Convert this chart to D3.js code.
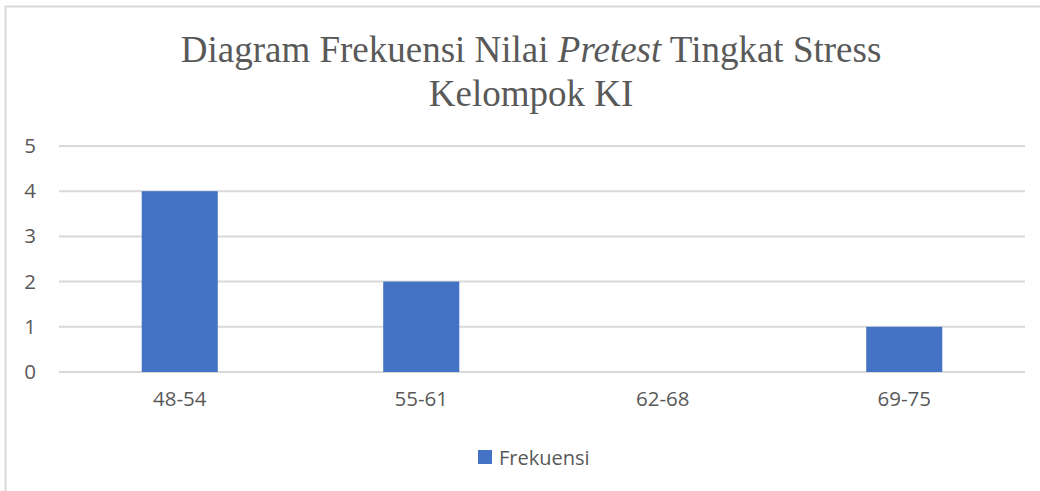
<!DOCTYPE html>
<html>
<head>
<meta charset="utf-8">
<script src="https://cdn.jsdelivr.net/npm/d3@7"></script>
<style>
  body { margin: 0; background: #fff; }
  svg { display: block; }
</style>
</head>
<body>
<div id="chart"></div>
<script>
const categories = ['48-54', '55-61', '62-68', '69-75'];
const frekuensi = [4, 2, 0, 1];
const yTicks = [0, 1, 2, 3, 4, 5];
const seriesName = 'Frekuensi';

const width = 1040;
const height = 491;
const margin = { top: 146, right: 15, bottom: 119, left: 59 };

const svg = d3.select('#chart')
  .append('svg')
  .attr('width', width)
  .attr('height', height);

// chart frame (only top and left edges are visible in the crop)
svg.append('rect')
  .attr('x', 5.5)
  .attr('y', 6.5)
  .attr('width', width + 20)
  .attr('height', height + 20)
  .attr('fill', '#fff')
  .attr('stroke', '#d9d9d9')
  .attr('stroke-width', 2);

const x = d3.scaleBand()
  .domain(categories)
  .range([margin.left, width - margin.right])
  .paddingInner(0.685)
  .paddingOuter(0.3425);

const y = d3.scaleLinear()
  .domain([0, 5])
  .range([height - margin.bottom, margin.top]);

// gridlines
svg.append('g')
  .selectAll('line')
  .data(yTicks)
  .join('line')
  .attr('x1', margin.left)
  .attr('x2', width - margin.right)
  .attr('y1', d => y(d))
  .attr('y2', d => y(d))
  .attr('stroke', '#d9d9d9')
  .attr('stroke-width', 2);

// bars
svg.append('g')
  .selectAll('rect')
  .data(frekuensi)
  .join('rect')
  .attr('x', (d, i) => x(categories[i]))
  .attr('y', d => y(d))
  .attr('width', x.bandwidth())
  .attr('height', d => y(0) - y(d))
  .attr('fill', '#4472c4');

// y axis labels
const yAxis = svg.append('g')
  .attr('transform', `translate(36,0)`)
  .call(d3.axisLeft(y).tickValues(yTicks).tickSize(0).tickPadding(0).tickFormat(d3.format('d')));
yAxis.select('.domain').remove();
yAxis.selectAll('text')
  .attr('fill', '#595959')
  .style('font-family', '"Open Sans", sans-serif')
  .style('font-size', '20.5px');

// x axis labels
const xAxis = svg.append('g')
  .attr('transform', `translate(0,${height - margin.bottom})`)
  .call(d3.axisBottom(x).tickSize(0).tickPadding(19));
xAxis.select('.domain').remove();
xAxis.selectAll('text')
  .attr('fill', '#595959')
  .style('font-family', '"Open Sans", sans-serif')
  .style('font-size', '20.5px');

// title
const title = svg.append('text')
  .attr('text-anchor', 'middle')
  .attr('fill', '#595959')
  .style('font-family', '"Liberation Serif", "Times New Roman", serif')
  .style('font-size', '37px');
const line1 = title.append('tspan').attr('x', 531).attr('y', 62);
line1.append('tspan').text('Diagram Frekuensi Nilai ');
line1.append('tspan').style('font-style', 'italic').text('Pretest');
line1.append('tspan').text(' Tingkat Stress');
title.append('tspan').attr('x', 531).attr('y', 106).text('Kelompok KI');

// legend
const legend = svg.append('g').attr('transform', 'translate(478,450)');
legend.append('rect')
  .attr('width', 14)
  .attr('height', 14)
  .attr('fill', '#4472c4');
legend.append('text')
  .attr('x', 21)
  .attr('y', 15)
  .attr('fill', '#595959')
  .style('font-family', '"Open Sans", sans-serif')
  .style('font-size', '20px')
  .text(seriesName);
</script>
</body>
</html>
